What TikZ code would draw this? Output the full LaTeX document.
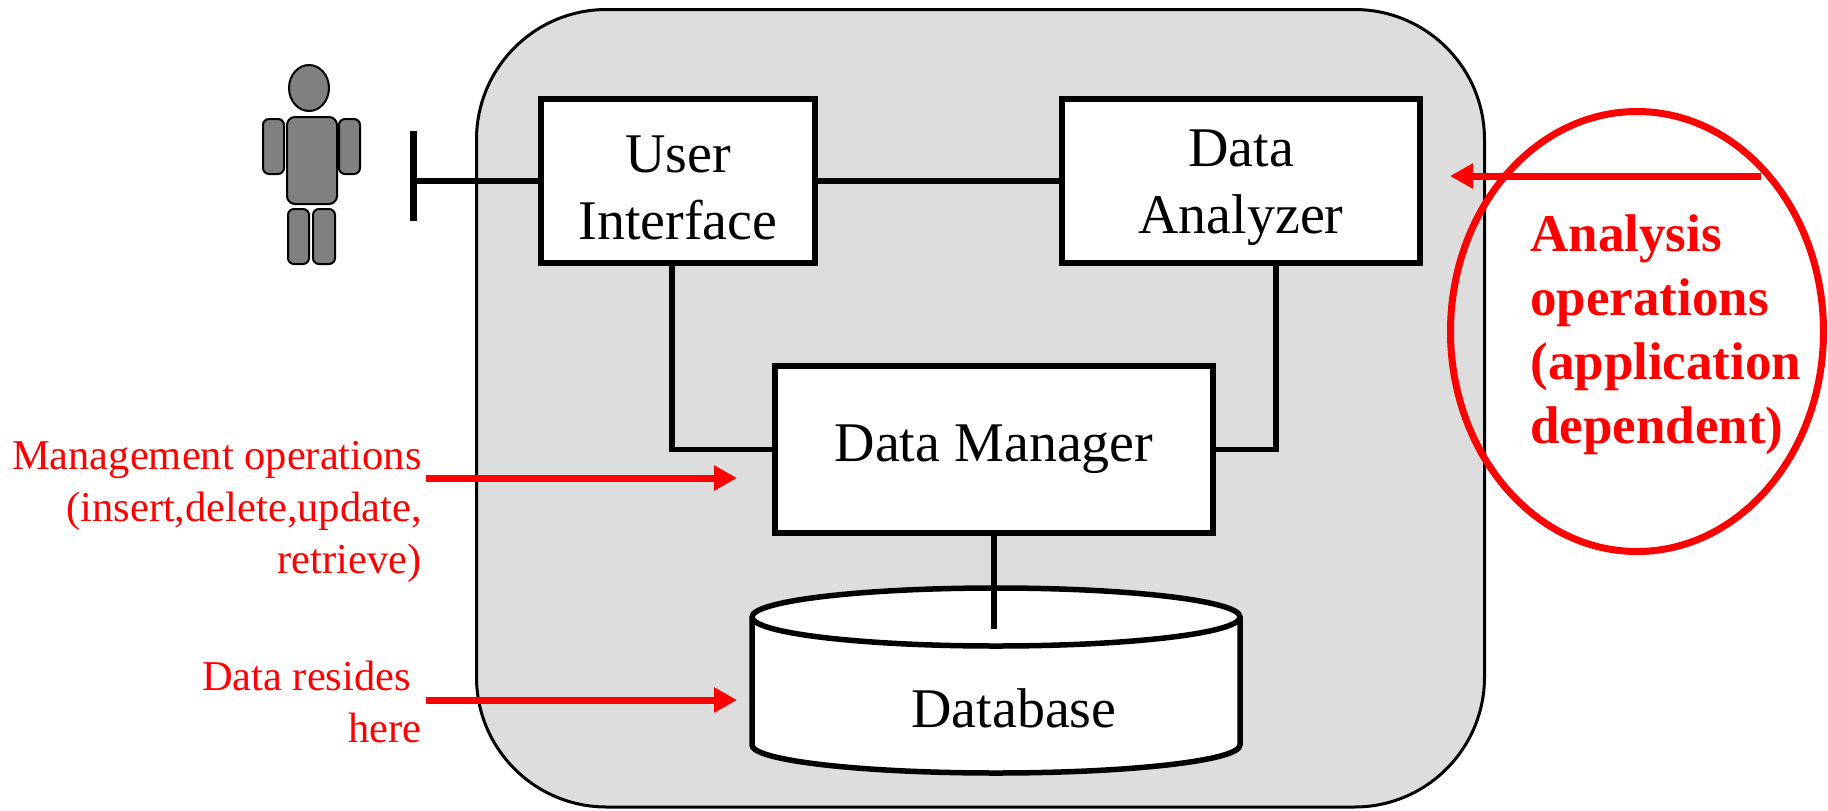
\documentclass[tikz,border=0pt]{standalone}
\usepackage{fontspec}
\setmainfont{Liberation Serif}
\usetikzlibrary{arrows.meta,shapes.geometric,calc}
\definecolor{bggray}{RGB}{221,221,221}
\definecolor{persongray}{RGB}{128,128,128}
\definecolor{ared}{RGB}{255,0,0}
\begin{document}
\begin{tikzpicture}[x=0.5pt,y=-0.5pt,
  box/.style={draw, fill=white, line width=3pt, inner sep=0pt},
  boxtext/.style={align=center, font=\fontsize{28}{33.5}\selectfont, inner sep=0pt, yshift=-3.5pt},
  conn/.style={line width=2.75pt},
  redarrow/.style={draw=ared, line width=3.5pt, -{Triangle[length=11.5pt,width=12pt]}},
  redtext/.style={text=ared, align=right, inner sep=0pt, font=\fontsize{21.25}{25.85}\selectfont},
  boldred/.style={text=ared, align=left, inner sep=0pt, font=\bfseries\fontsize{26.5}{31.85}\selectfont},
  person/.style={fill=persongray, draw=black, line width=1pt}
]
\useasboundingbox (0,0) rectangle (1828,810);
% system frame
\draw[fill=bggray, line width=1.5pt, rounded corners=65pt] (476.5,9.5) rectangle (1484.5,807);
% boxes
\node[box, minimum width=137pt, minimum height=82pt, label={[boxtext]center:User\\Interface}] (ui) at (678,181) {};
\node[box, minimum width=179pt, minimum height=82pt, label={[boxtext]center:Data\\Analyzer}] (da) at (1241,181) {};
\node[box, minimum width=219pt, minimum height=83.5pt, font=\fontsize{28}{33.5}\selectfont] (dm) at (994,449.5) {Data Manager};
% database
\draw[fill=white, line width=2.75pt] (752,617) -- (752,745)
  arc[start angle=180, end angle=360, x radius=122pt, y radius=14pt] -- (1240,617)
  arc[start angle=0, end angle=180, x radius=122pt, y radius=14.5pt] -- cycle;
\draw[line width=2.75pt] (752,617) arc[start angle=180, end angle=360, x radius=122pt, y radius=14.5pt];
\node[inner sep=0pt, font=\fontsize{28}{33.5}\selectfont] (db) at (1014,708) {Database};
\coordinate (dbtop) at (994,629);
% connectors
\draw[conn] (ui.east) -- (da.west);
\draw[conn] ($(ui.south)+(-6,0)$) |- (dm.west);
\draw[conn] ($(da.south)+(35,0)$) |- (dm.east);
\draw[conn] (dm.south) -- (dbtop);
% person
\draw[person] (309,88) ellipse[x radius=10pt, y radius=11.5pt];
\draw[person, rounded corners=4pt] (287,117) rectangle (337,204);
\draw[person, rounded corners=3pt] (263,119) rectangle (284,174);
\draw[person, rounded corners=3pt] (339,119) rectangle (360,174);
\draw[person, rounded corners=3pt] (288,209) rectangle (309,264);
\draw[person, rounded corners=3pt] (313,209) rectangle (335,264);
% interface bar
\coordinate (tb1) at (413,131);
\coordinate (tb2) at (413,221);
\draw[line width=3.5pt] (tb1) -- (tb2);
\draw[line width=3pt] (ui.west) -- (ui.west -| tb1);
% annotations
\node[redtext, anchor=base east] (mgmt) at (422,573) {Management operations\\(insert,delete,update,\\retrieve)};
\node[redtext, anchor=base east] (resides) at (422,742) {Data resides\kern0.25em\\here};
\coordinate (ma1) at (426,478);
\coordinate (ma2) at (737,478);
\draw[redarrow] (ma1) -- (ma2);
\coordinate (ra1) at (426,700);
\coordinate (ra2) at (737,700);
\draw[redarrow] (ra1) -- (ra2);
\node[boldred, anchor=base west] (analysis) at (1530,443) {Analysis\\operations\\(application\\dependent)};
\node[draw=ared, line width=3.5pt, ellipse, minimum width=186.5pt, minimum height=220pt, inner sep=0pt] (oval) at (1637,331.5) {};
\coordinate (aa1) at (1761,176);
\coordinate (aa2) at (1450,176);
\draw[redarrow] (aa1) -- (aa2);
\end{tikzpicture}
\end{document}
